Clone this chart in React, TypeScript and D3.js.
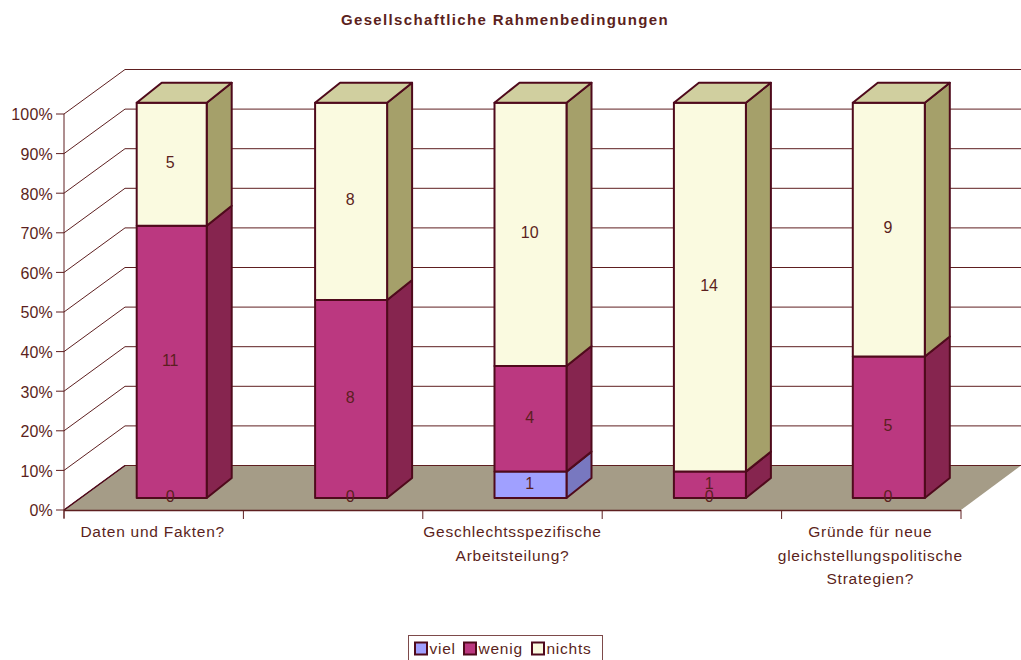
import React from "react";
import * as d3 from "d3";

const categories = ["Daten und Fakten?", "", "Geschlechtsspezifische|Arbeitsteilung?", "", "Gründe für neue|gleichstellungspolitische|Strategien?"];
const seriesNames = ["viel", "wenig", "nichts"];
const viel = [0, 0, 1, 0, 0];
const wenig = [11, 8, 4, 1, 5];
const nichts = [5, 8, 10, 14, 9];
const percentTicks = [0, 0.1, 0.2, 0.3, 0.4, 0.5, 0.6, 0.7, 0.8, 0.9, 1];
const title = "Gesellschaftliche Rahmenbedingungen";

const faceColors = ["#a0a0ff", "#bb3880", "#fafae0"];
const sideColors = ["#7878c0", "#86254f", "#a5a06a"];
const topColors = ["#8c8cdf", "#a03070", "#d0cf9f"];
const EDGE = "#4f0a1c";
const AXIS = "#5e1f20";
const TEXT = "#5b1f20";
const FONT = "'Liberation Sans', Arial, sans-serif";

const X0 = 64, X1 = 961, Y0 = 510, Y1 = 114;
const DX = 61, DY = -44.5;
const BAR_OFF_X = 17, BAR_OFF_Y = -12, BAR_DX = 25, BAR_DY = -20;

export default function App() {
  const idx = categories.map((_, i) => i);
  const band = d3.scaleBand<number>().domain(idx).range([X0, X1]);
  const y = d3.scaleLinear().domain([0, 1]).range([Y0, Y1]);
  const rows = idx.map((i) => ({ i, viel: viel[i], wenig: wenig[i], nichts: nichts[i] }));
  const stack = d3.stack<any>().keys(seriesNames).offset(d3.stackOffsetExpand)(rows);
  const poly = (pts: number[][]) => (d3.line()(pts as any) as string) + "Z";
  const tickXs = idx.map((i) => band(i)!).concat([X1]);
  const fmt = d3.format(".0%");

  return (
    <svg width={1021} height={660} style={{ position: "absolute", left: 0, top: 0, fontFamily: FONT }}>
      <rect width={1021} height={660} fill="#fff" />
      <text x={505} y={25} textAnchor="middle" fontSize={15} fontWeight="bold" fill={TEXT} letterSpacing={1.35}>{title}</text>

      {/* floor */}
      <path d={poly([[X0, Y0], [X0 + DX, Y0 + DY], [X1 + DX - 1, Y0 + DY], [X1, Y0]])} fill="#a59c87" stroke="none" />

      {/* grid */}
      {percentTicks.map((t) => (
        <path key={t} d={`M${X0},${y(t)}L${X0 + DX},${y(t) + DY}L${X1 + DX - 1},${y(t) + DY}`} fill="none" stroke={AXIS} strokeWidth={1} />
      ))}
      <path d={`M${X0},${Y0}L${X0 + DX},${Y0 + DY}`} stroke={EDGE} fill="none" strokeWidth={1.5} />

      {/* axes */}
      <line x1={X0} x2={X0} y1={Y1} y2={Y0 + 8} stroke={AXIS} strokeWidth={1} />
      <line x1={X0} x2={X1} y1={Y0 + 0.5} y2={Y0 + 0.5} stroke={AXIS} strokeWidth={1.5} />
      {percentTicks.map((t) => (
        <g key={t}>
          <line x1={X0 - 8} x2={X0} y1={y(t)} y2={y(t)} stroke={AXIS} strokeWidth={1} />
          <text x={X0 - 11} y={y(t) + 6.3} textAnchor="end" fontSize={16} letterSpacing={0.2} fill={TEXT}>{fmt(t)}</text>
        </g>
      ))}
      {tickXs.map((tx) => (
        <line key={tx} x1={tx} x2={tx} y1={Y0} y2={Y0 + 9} stroke={AXIS} strokeWidth={1} />
      ))}

      {/* bars */}
      {idx.map((i) => {
        const center = band(i)! + band.bandwidth() / 2 + BAR_OFF_X;
        const w = i === 0 ? 70 : 72;
        const shift = i === 0 ? 1 : i === 4 ? 0.5 : 1;
        const l = center - w / 2 + shift, r = l + w;
        return (
          <g key={i}>
            {stack.map((s, k) => {
              const a = s[i][0], b = s[i][1];
              if (b - a <= 0) return null;
              const yb = y(a) + BAR_OFF_Y, yt = y(b) + BAR_OFF_Y + (k === stack.length - 1 ? 0.7 : 0);
              return (
                <g key={k} stroke={EDGE} strokeWidth={2} strokeLinejoin="round">
                  <path d={poly([[r, yb], [r + BAR_DX, yb + BAR_DY], [r + BAR_DX, yt + BAR_DY], [r, yt]])} fill={sideColors[k]} />
                  <rect x={l} y={yt} width={w} height={yb - yt} fill={faceColors[k]} />
                  {k === stack.length - 1 && (
                    <path d={poly([[l, yt], [l + BAR_DX, yt + BAR_DY], [r + BAR_DX, yt + BAR_DY], [r, yt]])} fill={topColors[k]} />
                  )}
                </g>
              );
            })}
            {stack.map((s, k) => {
              const a = s[i][0], b = s[i][1];
              const ym = (y(a) + y(b)) / 2 + BAR_OFF_Y;
              const v = [viel, wenig, nichts][k][i];
              const tx = (l + r) / 2 - (i === 0 ? 1.5 : 0.8);
              if (k === 0 && v === 0) {
                return <text key={k} x={tx} y={Y0 + BAR_OFF_Y + 3.5} textAnchor="middle" fontSize={16} fill={TEXT}>0</text>;
              }
              return <text key={k} x={tx} y={ym + 4.2} textAnchor="middle" fontSize={16} fill={TEXT}>{v}</text>;
            })}
          </g>
        );
      })}

      {/* category labels */}
      {categories.map((c, i) => (
        <text key={i} textAnchor="middle" fontSize={15.5} fill={TEXT} letterSpacing={0.75}>
          {c.split("|").map((ln, j) => (
            <tspan key={j} x={band(i)! + band.bandwidth() / 2 - (i === 2 ? 0 : 1)} y={537 + j * 23.5}>{ln}</tspan>
          ))}
        </text>
      ))}

      {/* legend */}
      <rect x={408.5} y={635.5} width={194} height={30} fill="#fff" stroke="#7d4a4a" strokeWidth={1} />
      {seriesNames.map((n, k) => {
        const lx = [415, 464, 532][k];
        return (
          <g key={n}>
            <rect x={lx} y={642.5} width={12} height={12} fill={faceColors[k]} stroke={EDGE} strokeWidth={2} />
            <text x={lx + 14.5} y={654} fontSize={15.5} fill={TEXT} letterSpacing={0.75}>{n}</text>
          </g>
        );
      })}
    </svg>
  );
}
